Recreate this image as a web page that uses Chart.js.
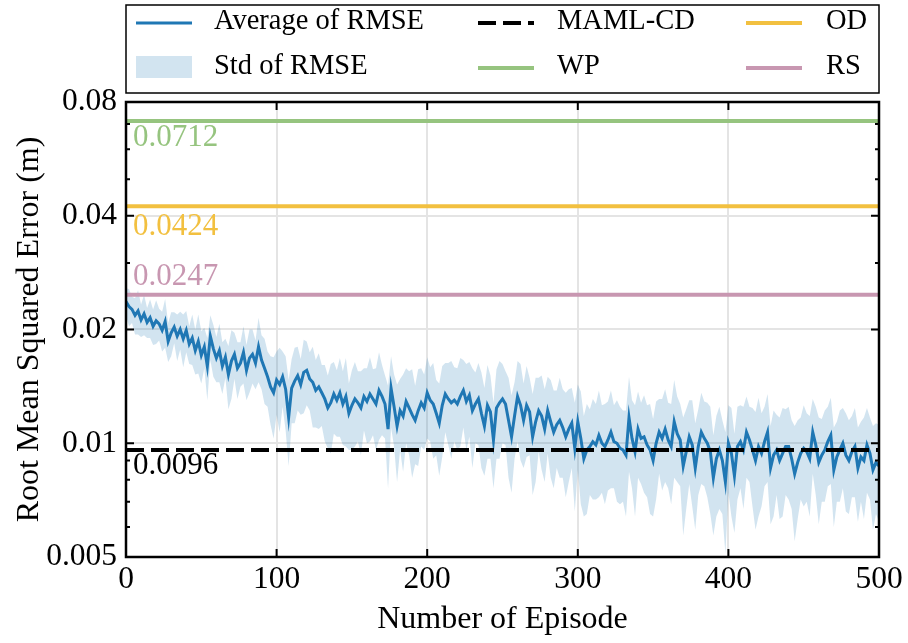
<!DOCTYPE html>
<html>
<head>
<meta charset="utf-8">
<script src="https://cdn.jsdelivr.net/npm/chart.js@4"></script>
<style>
  html, body { margin: 0; padding: 0; background: #fff; }
</style>
</head>
<body>
<canvas id="rmseChart" width="908" height="643"></canvas>
<script>
const EPISODE_STEP = 2;

const rmseMean = [
  0.0237, 0.0230, 0.0226, 0.0218, 0.0224, 0.0212, 0.0220, 0.0209, 0.0215, 0.0204,
  0.0211, 0.0207, 0.0199, 0.0210, 0.0186, 0.0196, 0.0203, 0.0192, 0.0200, 0.0189,
  0.0199, 0.0183, 0.0190, 0.0176, 0.0186, 0.0171, 0.0180, 0.0160, 0.0192, 0.0178,
  0.0168, 0.0176, 0.0160, 0.0169, 0.0152, 0.0165, 0.0172, 0.0158, 0.0163, 0.0174,
  0.0156, 0.0168, 0.0172, 0.0163, 0.0180, 0.0166, 0.0158, 0.0150, 0.0141, 0.0136,
  0.0147, 0.0143, 0.0150, 0.0139, 0.0117, 0.0140, 0.0146, 0.0151, 0.0143, 0.0154,
  0.0156, 0.0148, 0.0145, 0.0138, 0.0141, 0.0136, 0.0131, 0.0124, 0.0128, 0.0135,
  0.0130, 0.0136, 0.0127, 0.0133, 0.0120, 0.0126, 0.0131, 0.0128, 0.0124, 0.0133,
  0.0129, 0.0135, 0.0131, 0.0127, 0.0138, 0.0133, 0.0127, 0.0109, 0.0140, 0.0125,
  0.0111, 0.0122, 0.0118, 0.0129, 0.0124, 0.0119, 0.0115, 0.0122, 0.0128, 0.0124,
  0.0136, 0.0130, 0.0127, 0.0120, 0.0113, 0.0126, 0.0135, 0.0131, 0.0128, 0.0130,
  0.0127, 0.0133, 0.0138, 0.0129, 0.0134, 0.0122, 0.0127, 0.0131, 0.0120, 0.0111,
  0.0126, 0.0121, 0.0102, 0.0124, 0.0128, 0.0131, 0.0127, 0.0115, 0.0104, 0.0118,
  0.0133, 0.0126, 0.0115, 0.0126, 0.0121, 0.0104, 0.0114, 0.0122, 0.0118, 0.0109,
  0.0122, 0.0114, 0.0107, 0.0112, 0.0115, 0.0110, 0.0104, 0.0109, 0.0113, 0.0097,
  0.0114, 0.0103, 0.0091, 0.0096, 0.0098, 0.0101, 0.0099, 0.0105, 0.0100, 0.0098,
  0.0102, 0.0107, 0.0101, 0.0100, 0.0097, 0.0096, 0.0093, 0.0117, 0.0103, 0.0095,
  0.0109, 0.0103, 0.0104, 0.0099, 0.0096, 0.0090, 0.0100, 0.0107, 0.0103, 0.0109,
  0.0102, 0.0098, 0.0114, 0.0106, 0.0102, 0.0087, 0.0095, 0.0104, 0.0099, 0.0086,
  0.0098, 0.0107, 0.0103, 0.0100, 0.0095, 0.0081, 0.0091, 0.0096, 0.0090, 0.0079,
  0.0100, 0.0094, 0.0082, 0.0098, 0.0101, 0.0096, 0.0107, 0.0102, 0.0096, 0.0090,
  0.0098, 0.0094, 0.0101, 0.0107, 0.0086, 0.0093, 0.0096, 0.0090, 0.0094, 0.0098,
  0.0098, 0.0091, 0.0083, 0.0089, 0.0094, 0.0097, 0.0095, 0.0091, 0.0107, 0.0099,
  0.0089, 0.0093, 0.0096, 0.0101, 0.0105, 0.0085, 0.0092, 0.0096, 0.0100, 0.0093,
  0.0090, 0.0095, 0.0098, 0.0086, 0.0092, 0.0090, 0.0099, 0.0094, 0.0085, 0.0089,
  0.0087
];

const rmseStd = [
  0.0020, 0.0026, 0.0018, 0.0024, 0.0030, 0.0021, 0.0027, 0.0019, 0.0025, 0.0022,
  0.0028, 0.0020, 0.0024, 0.0031, 0.0022, 0.0026, 0.0019, 0.0027, 0.0023, 0.0030,
  0.0025, 0.0021, 0.0029, 0.0024, 0.0033, 0.0027, 0.0022, 0.0030, 0.0026, 0.0028,
  0.0023, 0.0031, 0.0025, 0.0020, 0.0029, 0.0034, 0.0024, 0.0027, 0.0022, 0.0030,
  0.0026, 0.0032, 0.0028, 0.0024, 0.0035, 0.0027, 0.0031, 0.0025, 0.0029, 0.0033,
  0.0028, 0.0036, 0.0025, 0.0031, 0.0030, 0.0027, 0.0033, 0.0029, 0.0024, 0.0034,
  0.0030, 0.0026, 0.0035, 0.0028, 0.0032, 0.0025, 0.0030, 0.0027, 0.0034, 0.0029,
  0.0026, 0.0032, 0.0028, 0.0035, 0.0024, 0.0030, 0.0033, 0.0027, 0.0031, 0.0025,
  0.0029, 0.0034, 0.0026, 0.0031, 0.0036, 0.0028, 0.0024, 0.0033, 0.0030, 0.0027,
  0.0032, 0.0026, 0.0034, 0.0029, 0.0031, 0.0038, 0.0027, 0.0035, 0.0030, 0.0028,
  0.0033, 0.0029, 0.0036, 0.0027, 0.0031, 0.0034, 0.0028, 0.0032, 0.0037, 0.0029,
  0.0031, 0.0035, 0.0028, 0.0033, 0.0030, 0.0036, 0.0027, 0.0032, 0.0034, 0.0029,
  0.0035, 0.0030, 0.0026, 0.0033, 0.0037, 0.0031, 0.0028, 0.0034, 0.0030, 0.0027,
  0.0032, 0.0036, 0.0029, 0.0034, 0.0028, 0.0031, 0.0035, 0.0027, 0.0033, 0.0030,
  0.0028, 0.0033, 0.0031, 0.0026, 0.0034, 0.0029, 0.0032, 0.0030, 0.0027, 0.0031,
  0.0029, 0.0034, 0.0027, 0.0031, 0.0025, 0.0030, 0.0028, 0.0033, 0.0026, 0.0029,
  0.0027, 0.0031, 0.0025, 0.0030, 0.0028, 0.0026, 0.0029, 0.0033, 0.0027, 0.0031,
  0.0028, 0.0025, 0.0030, 0.0027, 0.0031, 0.0026, 0.0029, 0.0024, 0.0028, 0.0030,
  0.0026, 0.0029, 0.0033, 0.0027, 0.0025, 0.0030, 0.0028, 0.0026, 0.0031, 0.0027,
  0.0025, 0.0029, 0.0026, 0.0028, 0.0030, 0.0024, 0.0027, 0.0029, 0.0025, 0.0028,
  0.0026, 0.0030, 0.0024, 0.0027, 0.0025, 0.0029, 0.0026, 0.0023, 0.0028, 0.0031,
  0.0034, 0.0026, 0.0024, 0.0028, 0.0025, 0.0029, 0.0023, 0.0027, 0.0030, 0.0025,
  0.0027, 0.0024, 0.0028, 0.0026, 0.0023, 0.0029, 0.0025, 0.0027, 0.0024, 0.0026,
  0.0028, 0.0023, 0.0026, 0.0024, 0.0027, 0.0025, 0.0022, 0.0026, 0.0024, 0.0027,
  0.0025, 0.0023, 0.0026, 0.0024, 0.0022, 0.0027, 0.0025, 0.0023, 0.0026, 0.0024,
  0.0025
];

// constant baselines
const baselineNames = ['MAML-CD', 'WP', 'OD', 'RS'];
const baselineValues = [0.0096, 0.0712, 0.0424, 0.0247];
const baselineLabels = ['0.0096', '0.0712', '0.0424', '0.0247'];
const baselineColors = ['#000000', '#96c47f', '#f2c040', '#c897b1'];

const xTicks = [0, 100, 200, 300, 400, 500];
const yMajorTicks = [0.005, 0.01, 0.02, 0.04, 0.08];
const yMinorTicks = [0.006, 0.007, 0.008, 0.009, 0.03, 0.05, 0.06, 0.07];

const FONT = "'Liberation Serif', 'Times New Roman', serif";
const MEAN_COLOR = '#1f77b4';
const BAND_COLOR = 'rgba(31, 119, 180, 0.2)';
const GRID_COLOR = '#e4e4e4';

const xMin = xTicks[0], xMax = xTicks[xTicks.length - 1];
const meanPoints = rmseMean.map((v, i) => ({ x: i * EPISODE_STEP, y: v }));
const lowerPoints = rmseMean.map((v, i) => ({ x: i * EPISODE_STEP, y: v - rmseStd[i] }));
const upperPoints = rmseMean.map((v, i) => ({ x: i * EPISODE_STEP, y: v + rmseStd[i] }));

const baselineSets = baselineNames.map((name, i) => ({
    label: name,
    data: [{ x: xMin, y: baselineValues[i] }, { x: xMax, y: baselineValues[i] }],
    borderColor: baselineColors[i],
    borderWidth: 4,
    borderDash: name === 'MAML-CD' ? [18, 7] : [],
    pointRadius: 0,
    fill: false,
    order: 0
}));

// offset of the value label from its line (px, + is below)
const labelOffsets = { 'MAML-CD': 16, 'WP': 17, 'OD': 21, 'RS': -18 };

const baselineTextPlugin = {
    id: 'baselineText',
    afterDatasetsDraw(chart) {
        const { ctx, chartArea, scales } = chart;
        ctx.save();
        ctx.font = `31px ${FONT}`;
        ctx.textAlign = 'left';
        ctx.textBaseline = 'middle';
        baselineNames.forEach((name, i) => {
            const y = scales.y.getPixelForValue(baselineValues[i]);
            ctx.fillStyle = baselineColors[i];
            ctx.fillText(baselineLabels[i], chartArea.left + 7, y + labelOffsets[name]);
        });
        ctx.restore();
    }
};

// frame + inward ticks on all four sides
const frameTicksPlugin = {
    id: 'frameTicks',
    afterDraw(chart) {
        const { ctx, chartArea: a, scales } = chart;
        ctx.save();
        ctx.strokeStyle = '#000';
        ctx.lineWidth = 2;
        ctx.beginPath();
        const tick = (x1, y1, x2, y2) => { ctx.moveTo(x1, y1); ctx.lineTo(x2, y2); };
        xTicks.forEach(v => {
            const x = scales.x.getPixelForValue(v);
            tick(x, a.bottom, x, a.bottom - 8);
            tick(x, a.top, x, a.top + 8);
        });
        yMajorTicks.forEach(v => {
            const y = scales.y.getPixelForValue(v);
            tick(a.left, y, a.left + 8, y);
            tick(a.right, y, a.right - 8, y);
        });
        yMinorTicks.forEach(v => {
            const y = scales.y.getPixelForValue(v);
            tick(a.left, y, a.left + 4, y);
            tick(a.right, y, a.right - 4, y);
        });
        ctx.stroke();
        ctx.lineWidth = 2.5;
        ctx.strokeRect(a.left, a.top, a.right - a.left, a.bottom - a.top);
        ctx.restore();
    }
};

// legend box above the plot, 3 columns x 2 rows
const legendEntries = [
    { text: 'Average of RMSE', kind: 'line', color: MEAN_COLOR, col: 0, row: 0 },
    { text: 'Std of RMSE', kind: 'patch', color: BAND_COLOR, col: 0, row: 1 },
    { text: baselineNames[0], kind: 'dash', color: baselineColors[0], col: 1, row: 0 },
    { text: baselineNames[1], kind: 'line', color: baselineColors[1], col: 1, row: 1 },
    { text: baselineNames[2], kind: 'line', color: baselineColors[2], col: 2, row: 0 },
    { text: baselineNames[3], kind: 'line', color: baselineColors[3], col: 2, row: 1 }
];

const legendBoxPlugin = {
    id: 'legendBox',
    afterDraw(chart) {
        const { ctx, chartArea: a } = chart;
        const handleX = [136, 478, 746];
        const textX = [214, 557, 826];
        const rowY = [22, 67];
        const handleW = 56;
        ctx.save();
        ctx.strokeStyle = '#000';
        ctx.lineWidth = 1.5;
        ctx.strokeRect(a.left, 5, a.right - a.left, 88);
        ctx.font = `28.5px ${FONT}`;
        ctx.textBaseline = 'middle';
        ctx.textAlign = 'left';
        legendEntries.forEach(e => {
            const x = handleX[e.col];
            const y = rowY[e.row];
            if (e.kind === 'patch') {
                ctx.fillStyle = e.color;
                ctx.fillRect(x, y - 11, handleW, 22);
            } else {
                ctx.beginPath();
                ctx.strokeStyle = e.color;
                ctx.lineWidth = e.color === MEAN_COLOR ? 3 : 4;
                ctx.setLineDash(e.kind === 'dash' ? [18, 7] : []);
                ctx.moveTo(x, y + 1);
                ctx.lineTo(x + handleW, y + 1);
                ctx.stroke();
                ctx.setLineDash([]);
            }
            ctx.fillStyle = '#000';
            ctx.fillText(e.text, textX[e.col], y);
        });
        ctx.restore();
    }
};

new Chart(document.getElementById('rmseChart').getContext('2d'), {
    type: 'line',
    data: {
        datasets: [
            ...baselineSets,
            {
                label: 'Average of RMSE',
                data: meanPoints,
                borderColor: MEAN_COLOR,
                borderWidth: 3,
                pointRadius: 0,
                fill: false,
                order: 1
            },
            {
                label: 'Std lower',
                data: lowerPoints,
                borderWidth: 0,
                borderColor: 'rgba(0,0,0,0)',
                pointRadius: 0,
                fill: false,
                order: 3
            },
            {
                label: 'Std of RMSE',
                data: upperPoints,
                borderWidth: 0,
                borderColor: 'rgba(0,0,0,0)',
                backgroundColor: BAND_COLOR,
                pointRadius: 0,
                fill: '-1',
                order: 2
            }
        ]
    },
    options: {
        responsive: false,
        animation: false,
        devicePixelRatio: 1,
        layout: { padding: { left: 0, right: 29, top: 102, bottom: 0 } },
        plugins: {
            legend: { display: false },
            tooltip: { enabled: false }
        },
        scales: {
            x: {
                type: 'linear',
                min: xMin,
                max: xMax,
                afterBuildTicks: s => { s.ticks = xTicks.map(v => ({ value: v })); },
                afterFit: s => { s.height = 86; },
                ticks: {
                    font: { family: FONT, size: 31.5 },
                    color: '#000',
                    padding: 4,
                    maxRotation: 0,
                    autoSkip: false,
                    callback: v => String(v)
                },
                grid: {
                    color: c => (c.tick && c.tick.value > xMin && c.tick.value < xMax) ? GRID_COLOR : 'rgba(0,0,0,0)',
                    lineWidth: 2,
                    drawTicks: false
                },
                border: { display: false },
                title: {
                    display: true,
                    text: 'Number of Episode',
                    font: { family: FONT, size: 32 },
                    color: '#000',
                    padding: { top: 0, bottom: 4 }
                }
            },
            y: {
                type: 'logarithmic',
                min: yMajorTicks[0],
                max: yMajorTicks[yMajorTicks.length - 1],
                afterBuildTicks: s => {
                    s.ticks = [...yMajorTicks, ...yMinorTicks].sort((p, q) => p - q).map(v => ({ value: v }));
                },
                afterFit: s => { s.width = 126; },
                ticks: {
                    font: { family: FONT, size: 31.5 },
                    color: '#000',
                    padding: 9,
                    autoSkip: false,
                    callback: v => yMajorTicks.includes(v) ? String(v) : ''
                },
                grid: {
                    color: c => (c.tick && yMajorTicks.includes(c.tick.value) && c.tick.value > yMajorTicks[0] && c.tick.value < yMajorTicks[yMajorTicks.length - 1]) ? GRID_COLOR : 'rgba(0,0,0,0)',
                    lineWidth: 2,
                    drawTicks: false
                },
                border: { display: false },
                title: {
                    display: true,
                    text: 'Root Mean Squared Error (m)',
                    font: { family: FONT, size: 32 },
                    color: '#000',
                    padding: { top: 10, bottom: 0 }
                }
            }
        }
    },
    plugins: [baselineTextPlugin, frameTicksPlugin, legendBoxPlugin]
});
</script>
</body>
</html>
